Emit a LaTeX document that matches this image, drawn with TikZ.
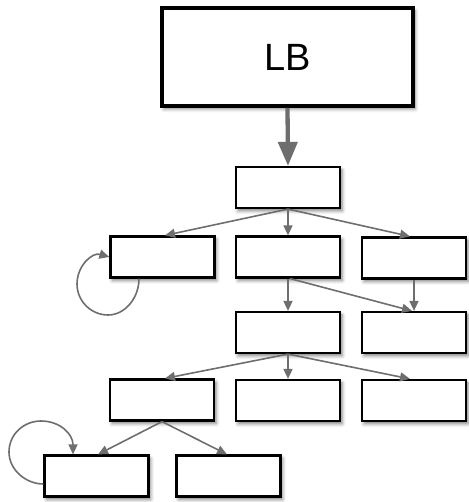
\documentclass[tikz,border=0pt]{standalone}
\usepackage{fontspec}
\setmainfont{Liberation Sans}
\usetikzlibrary{arrows.meta,shadows.blur}
\definecolor{edgegray}{HTML}{6E6E6E}
\begin{document}
\begin{tikzpicture}[x=1pt,y=1pt,
  box/.style={draw=black, line width=2.2pt, fill=white, rectangle,
    minimum width=104pt, minimum height=41pt, inner sep=0pt,
    blur shadow={shadow xshift=2pt, shadow yshift=-3pt,
      shadow blur radius=3.5pt, shadow opacity=50}},
  bigbox/.style={box, line width=3.8pt, minimum width=251pt, minimum height=98pt,
    font=\fontsize{38}{40}\selectfont},
  link/.style={draw=edgegray, line width=1.6pt,
    -{Triangle[length=10pt,width=9pt]}},
  biglink/.style={draw=edgegray, line width=4.3pt,
    -{Triangle[length=24pt,width=19pt]}}]
\useasboundingbox (0,0) rectangle (468,502);

% boxes
\node[bigbox] (lb) at (287.5,445) {LB};
\node[box] (r1) at (288,314.5) {};
\node[box] (r2a) at (162.5,245) {};
\node[box] (r2b) at (288,245) {};
\node[box] (r2c) at (414,244) {};
\node[box] (r3b) at (288,169.5) {};
\node[box] (r3c) at (414,169.5) {};
\node[box] (r4a) at (162,102) {};
\node[box] (r4b) at (288,101.5) {};
\node[box] (r4c) at (414,101.5) {};
\node[box] (r5a) at (96.5,26) {};
\node[box] (r5b) at (228.5,26) {};

% connectors
\draw[biglink] (lb.south) -- (r1.north);
\draw[link] (r1.south) -- ([xshift=2.5pt]r2a.north);
\draw[link] (r1.south) -- (r2b.north);
\draw[link] (r1.south) -- ([xshift=-4pt]r2c.north);
\draw[link] (r2b.south) -- (r3b.north);
\draw[link] ([xshift=2pt]r2b.south) -- ([xshift=-2pt]r3c.north);
\draw[link] (r2c.south) -- (r3c.north);
\draw[link] (r3b.south) -- ([xshift=3pt]r4a.north);
\draw[link] (r3b.south) -- (r4b.north);
\draw[link] (r3b.south) -- ([xshift=-4pt]r4c.north);
\draw[link] (r4a.south) -- ([xshift=1.5pt]r5a.north);
\draw[link] (r4a.south) -- ([xshift=-1.5pt]r5b.north);

% self loops
\draw[link] ([xshift=-23.5pt]r2a.south)
  .. controls (139,204) and (125,187) .. (108,187)
  .. controls (91,187) and (77,201) .. (77,218)
  .. controls (77,236) and (92,250) .. (r2a.west);
\draw[link] ([yshift=-8pt]r5a.west)
  .. controls (26,18) and (9,32) .. (9,50)
  .. controls (9,68) and (24,81) .. (41,81)
  .. controls (60,81) and (73,68) .. ([xshift=-23.5pt]r5a.north);
\end{tikzpicture}
\end{document}
